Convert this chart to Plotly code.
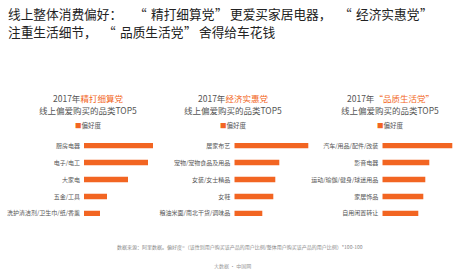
import plotly.graph_objects as go

W, H = 468, 269
ORANGE = "#F26522"
FONT = "Noto Sans CJK SC"

# ---- data ----
groups = ["精打细算党", "经济实惠党", "“品质生活党”"]
cats1 = ["厨房电器", "电子/电工", "大家电", "五金/工具", "洗护清洁剂/卫生巾/纸/香薰"]
vals1 = [69, 64, 44, 23, 16]
cats2 = ["居家布艺", "宠物/宠物食品及用品", "女装/女士精品", "女鞋", "粮油米面/南北干货/调味品"]
vals2 = [74, 45, 41, 39, 28]
cats3 = ["汽车/用品/配件/改装", "影音电器", "运动/瑜伽/健身/球迷用品", "家居饰品", "自用闲置转让"]
vals3 = [70, 47, 43, 41, 36]
series_name = "偏好度"

# headline split into pieces: (text, x pixel, anchor)
title_line1 = [("线上整体消费偏好：", 7, "left"), ("“", 148, "right"), ("精打细算党", 150, "left"),
               ("”", 214, "left"), ("更爱买家居电器，", 229, "left"), ("“", 353, "right"),
               ("经济实惠党", 355, "left"), ("”", 419, "left")]
title_line2 = [("注重生活细节，", 7, "left"), ("“", 117, "right"), ("品质生活党", 119, "left"),
               ("”", 183, "left"), ("舍得给车花钱", 198, "left")]

panels = [(cats1, vals1), (cats2, vals2), (cats3, vals3)]
x_starts = [84, 234.3, 382.3]
title_centers = [88, 233, 390]
XMAX = 75

fig = go.Figure()
layout = dict(
    width=W, height=H, margin=dict(l=0, r=0, t=0, b=0),
    paper_bgcolor="white", plot_bgcolor="white",
    showlegend=False, bargap=0.68,
    font=dict(family=FONT, color="#555"),
)
y_top = 137.2
y_bot = 221.8
annotations = []
for i, (cats, vals) in enumerate(panels):
    sfx = "" if i == 0 else str(i + 1)
    fig.add_trace(go.Bar(
        x=vals, y=cats, orientation="h", name=series_name,
        marker=dict(color=ORANGE, line=dict(width=0)),
        xaxis="x" + sfx, yaxis="y" + sfx,
    ))
    x0 = x_starts[i] / W
    x1 = (x_starts[i] + XMAX) / W
    layout["xaxis" + sfx] = dict(
        domain=[x0, x1], range=[0, XMAX], visible=False,
        anchor="y" + sfx, fixedrange=True,
    )
    layout["yaxis" + sfx] = dict(
        domain=[1 - y_bot / H, 1 - y_top / H], anchor="x" + sfx,
        autorange="reversed", showgrid=False, zeroline=False, showline=False,
        ticks="", ticklabelstandoff=3,
        tickfont=dict(size=6, color="#555", family=FONT),
    )
    cx = title_centers[i] / W
    annotations.append(dict(
        x=cx, y=1 - 97.7 / H, xref="paper", yref="paper", showarrow=False,
        xanchor="center", yanchor="middle",
        text="2017年<span style='color:%s'>%s</span>" % (ORANGE, groups[i]),
        font=dict(size=8.5, color="#555", family=FONT),
    ))
    annotations.append(dict(
        x=cx, y=1 - 109.5 / H, xref="paper", yref="paper", showarrow=False,
        xanchor="center", yanchor="middle",
        text="线上偏爱购买的品类TOP5",
        font=dict(size=8.5, color="#555", family=FONT),
    ))
    annotations.append(dict(
        x=cx, y=1 - 124.5 / H, xref="paper", yref="paper", showarrow=False,
        xanchor="center", yanchor="middle",
        text="<span style='color:%s'>■</span>%s" % (ORANGE, series_name),
        font=dict(size=6.5, color="#555", family=FONT),
    ))

for line, yc in ((title_line1, 13.8), (title_line2, 31.4)):
    for txt, xp, anc in line:
        annotations.append(dict(
            x=xp / W, y=1 - yc / H, xref="paper", yref="paper", showarrow=False,
            xanchor=anc, yanchor="middle", borderpad=0, text=txt,
            font=dict(size=12.7, color="#222", family=FONT)))

annotations += [
    dict(x=240 / W, y=1 - 246.5 / H, xref="paper", yref="paper", showarrow=False,
         xanchor="center", yanchor="middle",
         text="数据来源：阿里数据。偏好度=（该性别用户购买该产品的用户比例/整体用户购买该产品的用户比例）*100-100",
         font=dict(size=5, color="#888", family=FONT)),
    dict(x=232 / W, y=1 - 266 / H, xref="paper", yref="paper", showarrow=False,
         xanchor="center", yanchor="middle",
         text="大数据 · 中国网",
         font=dict(size=5, color="#999", family=FONT)),
]
layout["annotations"] = annotations
fig.update_layout(**layout)
fig.write_html("out.html")
